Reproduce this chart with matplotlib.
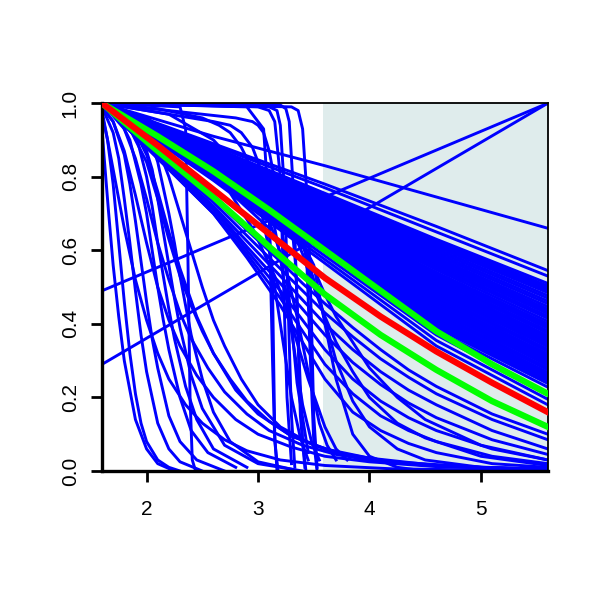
import matplotlib
matplotlib.use('Agg')
import matplotlib.pyplot as plt

plt.rcParams['font.family'] = ['Liberation Sans', 'DejaVu Sans']

# x range of the plot and the shaded interval
x_lo, x_hi = 1.6, 5.6
shade_from = 3.58

# main band of slow decay curves, y read at band_x
band_x = [1.6, 2.6, 3.6, 4.6, 5.6]
band_y = [
    [1.0, 0.910, 0.830, 0.745, 0.660],
    [1.0, 0.890, 0.780, 0.665, 0.545],
    [1.0, 0.885, 0.770, 0.650, 0.530],
    [1.0, 0.880, 0.755, 0.630, 0.510],
    [1.0, 0.878, 0.752, 0.625, 0.503],
    [1.0, 0.876, 0.748, 0.620, 0.497],
    [1.0, 0.874, 0.745, 0.615, 0.491],
    [1.0, 0.873, 0.742, 0.610, 0.485],
    [1.0, 0.871, 0.738, 0.604, 0.477],
    [1.0, 0.870, 0.735, 0.598, 0.470],
    [1.0, 0.868, 0.731, 0.592, 0.462],
    [1.0, 0.866, 0.727, 0.586, 0.455],
    [1.0, 0.864, 0.723, 0.580, 0.447],
    [1.0, 0.863, 0.720, 0.575, 0.440],
    [1.0, 0.861, 0.716, 0.570, 0.434],
    [1.0, 0.860, 0.712, 0.565, 0.428],
    [1.0, 0.858, 0.708, 0.559, 0.421],
    [1.0, 0.856, 0.705, 0.553, 0.415],
    [1.0, 0.854, 0.701, 0.547, 0.407],
    [1.0, 0.852, 0.697, 0.540, 0.400],
    [1.0, 0.850, 0.693, 0.535, 0.394],
    [1.0, 0.848, 0.690, 0.530, 0.388],
    [1.0, 0.846, 0.686, 0.524, 0.381],
    [1.0, 0.845, 0.682, 0.518, 0.375],
    [1.0, 0.843, 0.678, 0.512, 0.368],
    [1.0, 0.842, 0.675, 0.506, 0.362],
    [1.0, 0.840, 0.671, 0.500, 0.356],
    [1.0, 0.838, 0.668, 0.495, 0.350],
    [1.0, 0.836, 0.664, 0.490, 0.344],
    [1.0, 0.835, 0.660, 0.484, 0.338],
    [1.0, 0.833, 0.656, 0.478, 0.331],
    [1.0, 0.831, 0.652, 0.472, 0.325],
    [1.0, 0.830, 0.648, 0.466, 0.318],
    [1.0, 0.828, 0.645, 0.460, 0.312],
    [1.0, 0.826, 0.641, 0.454, 0.306],
    [1.0, 0.824, 0.637, 0.448, 0.300],
    [1.0, 0.822, 0.633, 0.442, 0.294],
    [1.0, 0.820, 0.630, 0.436, 0.288],
    [1.0, 0.818, 0.626, 0.430, 0.281],
    [1.0, 0.817, 0.622, 0.424, 0.275],
    [1.0, 0.815, 0.618, 0.418, 0.268],
    [1.0, 0.813, 0.615, 0.412, 0.262],
    [1.0, 0.811, 0.611, 0.406, 0.256],
    [1.0, 0.809, 0.607, 0.400, 0.250],
    [1.0, 0.807, 0.603, 0.395, 0.244],
    [1.0, 0.805, 0.600, 0.390, 0.238],
    [1.0, 0.802, 0.595, 0.382, 0.228],
    [1.0, 0.800, 0.585, 0.370, 0.210],
    [1.0, 0.795, 0.575, 0.355, 0.195],
    [1.0, 0.790, 0.565, 0.340, 0.180],
]

# curves below the band that keep decaying inside the shaded part
low_x = [1.6, 2.1, 2.6, 2.9, 3.2, 3.4, 3.6, 3.85, 4.1, 4.35, 4.6, 5.1, 5.6]
low_y = [
    [1.0, 0.87, 0.74, 0.655, 0.57, 0.51, 0.455, 0.39, 0.33, 0.275, 0.23, 0.155, 0.10],
    [1.0, 0.865, 0.73, 0.64, 0.55, 0.49, 0.43, 0.365, 0.305, 0.255, 0.21, 0.14, 0.085],
    [1.0, 0.86, 0.72, 0.625, 0.53, 0.465, 0.40, 0.33, 0.27, 0.22, 0.18, 0.11, 0.06],
    [1.0, 0.855, 0.715, 0.61, 0.51, 0.44, 0.37, 0.295, 0.235, 0.185, 0.145, 0.085, 0.045],
    [1.0, 0.85, 0.71, 0.60, 0.49, 0.41, 0.33, 0.25, 0.19, 0.145, 0.11, 0.06, 0.03],
    [1.0, 0.85, 0.70, 0.59, 0.47, 0.38, 0.29, 0.21, 0.15, 0.11, 0.08, 0.04, 0.02],
    [1.0, 0.85, 0.70, 0.58, 0.45, 0.35, 0.25, 0.16, 0.11, 0.075, 0.05, 0.02, 0.01],
]

# curves leaving the band around x = 3.3-3.8
late_x = [1.6, 2.6, 3.1, 3.3, 3.4, 3.5, 3.6, 3.7, 3.85, 4.0, 4.25, 4.5, 5.0, 5.6]
late_y = [
    [1.0, 0.83, 0.72, 0.66, 0.59, 0.50, 0.42, 0.35, 0.27, 0.20, 0.13, 0.09, 0.04, 0.015],
    [1.0, 0.82, 0.72, 0.67, 0.61, 0.55, 0.48, 0.42, 0.35, 0.28, 0.20, 0.14, 0.07, 0.03],
    [1.0, 0.84, 0.74, 0.69, 0.62, 0.52, 0.41, 0.30, 0.19, 0.12, 0.06, 0.03, 0.01, 0.0],
    [1.0, 0.83, 0.70, 0.64, 0.62, 0.56, 0.40, 0.25, 0.10, 0.04, 0.01, 0.0, 0.0, 0.0],
]

# early drops near the left edge (x, y pairs)
early = [
    ([1.6, 1.65, 1.7, 1.75, 1.8, 1.85, 1.9, 1.95, 2.0, 2.1, 2.2, 2.3],
     [0.97, 0.90, 0.78, 0.62, 0.46, 0.32, 0.21, 0.13, 0.08, 0.03, 0.01, 0.0]),
    ([1.6, 1.7, 1.75, 1.8, 1.85, 1.9, 1.95, 2.0, 2.1, 2.2, 2.3, 2.5],
     [0.99, 0.92, 0.85, 0.74, 0.62, 0.49, 0.37, 0.27, 0.13, 0.06, 0.025, 0.0]),
    ([1.6, 1.7, 1.8, 1.85, 1.9, 1.95, 2.0, 2.05, 2.1, 2.2, 2.3, 2.45, 2.7],
     [0.99, 0.95, 0.86, 0.78, 0.68, 0.57, 0.46, 0.36, 0.28, 0.15, 0.08, 0.03, 0.0]),
    ([1.6, 1.75, 1.85, 1.95, 2.0, 2.05, 2.1, 2.15, 2.2, 2.3, 2.4, 2.55, 2.8],
     [1.0, 0.96, 0.90, 0.78, 0.70, 0.60, 0.50, 0.41, 0.33, 0.20, 0.11, 0.05, 0.01]),
    ([1.6, 1.8, 1.9, 2.0, 2.05, 2.1, 2.15, 2.2, 2.25, 2.35, 2.45, 2.6, 2.9],
     [1.0, 0.97, 0.92, 0.80, 0.72, 0.62, 0.53, 0.44, 0.36, 0.23, 0.14, 0.06, 0.01]),
    ([1.6, 1.8, 1.95, 2.05, 2.1, 2.15, 2.2, 2.25, 2.3, 2.4, 2.5, 2.7, 3.0, 3.4],
     [1.0, 0.98, 0.92, 0.82, 0.74, 0.65, 0.56, 0.47, 0.39, 0.26, 0.17, 0.07, 0.02, 0.0]),
    ([1.6, 1.7, 1.8, 1.9, 2.0, 2.1, 2.2, 2.3, 2.45, 2.6, 2.8, 3.0, 3.3, 3.6, 4.0, 4.6, 5.6],
     [0.99, 0.95, 0.87, 0.75, 0.62, 0.50, 0.41, 0.34, 0.26, 0.20, 0.14, 0.10, 0.065, 0.04, 0.025, 0.012, 0.004]),
    ([1.6, 1.8, 1.9, 2.0, 2.1, 2.2, 2.3, 2.4, 2.55, 2.7, 2.9, 3.1, 3.4, 3.7, 4.1, 4.7, 5.6],
     [1.0, 0.93, 0.85, 0.74, 0.62, 0.52, 0.43, 0.36, 0.28, 0.215, 0.155, 0.11, 0.07, 0.045, 0.025, 0.012, 0.005]),
    ([1.6, 1.65, 1.7, 1.8, 1.9, 2.0, 2.1, 2.2, 2.35, 2.5, 2.7, 2.9, 3.2, 3.6, 4.2, 5.6],
     [0.98, 0.90, 0.82, 0.66, 0.52, 0.41, 0.32, 0.25, 0.18, 0.13, 0.085, 0.055, 0.03, 0.015, 0.006, 0.0]),
    ([1.6, 1.8, 2.0, 2.1, 2.2, 2.3, 2.4, 2.5, 2.6, 2.75, 2.9, 3.1, 3.3, 3.6, 4.0, 4.6, 5.6],
     [1.0, 0.96, 0.84, 0.74, 0.63, 0.53, 0.45, 0.38, 0.32, 0.25, 0.19, 0.135, 0.095, 0.06, 0.035, 0.015, 0.004]),
    ([1.6, 1.62, 1.66, 1.7, 1.75, 1.8, 1.9, 2.0, 2.1, 2.25],
     [0.93, 0.85, 0.70, 0.56, 0.42, 0.30, 0.14, 0.06, 0.02, 0.0]),
    ([1.6, 1.9, 2.0, 2.1, 2.2, 2.25, 2.3, 2.35, 2.4, 2.5, 2.6, 2.75, 3.0, 3.3],
     [1.0, 0.97, 0.93, 0.84, 0.70, 0.62, 0.53, 0.45, 0.37, 0.25, 0.16, 0.08, 0.025, 0.005]),
    ([1.6, 1.9, 2.1, 2.2, 2.3, 2.4, 2.5, 2.6, 2.7, 2.85, 3.0, 3.2, 3.5, 3.9, 4.5, 5.6],
     [1.0, 0.96, 0.88, 0.80, 0.70, 0.60, 0.50, 0.41, 0.34, 0.25, 0.18, 0.12, 0.07, 0.035, 0.015, 0.003]),
    ([1.6, 1.85, 2.0, 2.1, 2.2, 2.3, 2.45, 2.6, 2.8, 3.0, 3.3, 3.7, 4.2, 5.0, 5.6],
     [1.0, 0.95, 0.86, 0.76, 0.65, 0.55, 0.42, 0.32, 0.22, 0.155, 0.095, 0.05, 0.025, 0.01, 0.005]),
]

# curves that stay high and then fall steeply (x, y pairs)
steep = [
    ([1.6, 2.3, 2.35, 2.37, 2.39, 2.41, 2.44], [1.0, 0.99, 0.93, 0.60, 0.20, 0.03, 0.0]),
    ([1.6, 2.9, 3.05, 3.1, 3.13, 3.15, 3.18], [1.0, 0.99, 0.93, 0.70, 0.30, 0.08, 0.0]),
    ([1.6, 2.1, 2.5, 2.65, 2.75, 2.85, 2.9, 3.0, 3.1, 3.2, 3.3, 3.38, 3.45],
     [1.0, 0.985, 0.96, 0.94, 0.92, 0.88, 0.85, 0.75, 0.60, 0.40, 0.20, 0.09, 0.03]),
    ([1.6, 2.1, 2.6, 2.75, 2.85, 2.95, 3.0, 3.1, 3.2, 3.3, 3.4, 3.48, 3.55],
     [1.0, 0.975, 0.95, 0.94, 0.92, 0.88, 0.84, 0.74, 0.58, 0.38, 0.18, 0.08, 0.03]),
    ([1.6, 2.2, 2.8, 2.95, 3.0, 3.05, 3.1, 3.15, 3.2, 3.25, 3.3, 3.35, 3.45],
     [1.0, 0.98, 0.96, 0.95, 0.94, 0.92, 0.87, 0.79, 0.70, 0.57, 0.40, 0.24, 0.05]),
    ([1.6, 3.0, 3.1, 3.15, 3.2, 3.23, 3.26, 3.3], [1.0, 0.99, 0.98, 0.95, 0.80, 0.50, 0.20, 0.02]),
    ([1.6, 3.1, 3.17, 3.2, 3.24, 3.27, 3.3, 3.33], [1.0, 0.99, 0.98, 0.94, 0.75, 0.45, 0.15, 0.01]),
    ([1.6, 3.2, 3.25, 3.28, 3.32, 3.35, 3.38, 3.42], [1.0, 0.995, 0.985, 0.95, 0.75, 0.45, 0.15, 0.01]),
    ([1.6, 3.3, 3.36, 3.4, 3.45, 3.48, 3.5, 3.53], [1.0, 0.99, 0.98, 0.93, 0.70, 0.40, 0.15, 0.01]),
    ([1.6, 2.2, 2.6, 2.9, 3.1, 3.25, 3.35, 3.45, 3.55, 3.62, 3.7],
     [1.0, 0.97, 0.90, 0.80, 0.68, 0.55, 0.42, 0.27, 0.13, 0.07, 0.03]),
    ([1.6, 2.0, 2.4, 2.7, 2.95, 3.15, 3.3, 3.45, 3.6, 3.7, 3.8],
     [1.0, 0.96, 0.88, 0.78, 0.66, 0.53, 0.40, 0.25, 0.12, 0.06, 0.03]),
    ([1.6, 2.6, 3.4, 3.44, 3.47, 3.5, 3.53], [1.0, 0.84, 0.66, 0.55, 0.30, 0.08, 0.0]),
    ([1.6, 2.6, 3.3, 3.34, 3.37, 3.4, 3.43], [1.0, 0.83, 0.68, 0.55, 0.30, 0.08, 0.0]),
    ([1.6, 2.6, 3.1, 3.13, 3.15, 3.17], [1.0, 0.80, 0.66, 0.50, 0.10, 0.0]),
]

# two rising lines
rising = [
    ([1.6, 5.6], [0.49, 1.0]),
    ([1.6, 5.6], [0.29, 1.0]),
]

# estimate and its band
est_x = [1.6, 2.1, 2.6, 3.1, 3.6, 4.1, 4.6, 5.1, 5.6]
est_y = [1.0, 0.885, 0.765, 0.645, 0.525, 0.42, 0.325, 0.24, 0.16]
upper_y = [1.0, 0.91, 0.815, 0.71, 0.60, 0.49, 0.38, 0.29, 0.21]
lower_y = [1.0, 0.87, 0.745, 0.61, 0.48, 0.37, 0.275, 0.19, 0.12]

fig = plt.figure(figsize=(6, 6), dpi=100)
ax = fig.add_axes([0.17, 0.215, 0.743, 0.613])

ax.axvspan(shade_from, x_hi, color='#DFECEC', lw=0, zorder=0)

blue = dict(color='#0000FF', lw=2.1, zorder=2, solid_joinstyle='round')
for ys in band_y:
    ax.plot(band_x, ys, **blue)
for ys in low_y:
    ax.plot(low_x, ys, **blue)
for ys in late_y:
    ax.plot(late_x, ys, **blue)
for xs, ys in early + steep + rising:
    ax.plot(xs, ys, **blue)

ax.plot(est_x, upper_y, color='#00FF00', lw=4.5, zorder=3)
ax.plot(est_x, lower_y, color='#00FF00', lw=4.5, zorder=3)
ax.plot(est_x, est_y, color='#FF0000', lw=4.5, zorder=4)

ax.set_xlim(x_lo, x_hi)
ax.set_ylim(0, 1)
ax.set_xticks([2, 3, 4, 5])
ax.set_yticks([0.0, 0.2, 0.4, 0.6, 0.8, 1.0])
ax.set_yticklabels(['0.0', '0.2', '0.4', '0.6', '0.8', '1.0'], rotation=90, va='center')

for side in ['left', 'bottom']:
    ax.spines[side].set_linewidth(2.4)
for side in ['top', 'right']:
    ax.spines[side].set_linewidth(1.3)
ax.tick_params(axis='both', length=8, width=2, labelsize=15, direction='out')
ax.tick_params(axis='x', pad=13)
ax.tick_params(axis='y', pad=8)

fig.savefig('out.png', dpi=100)
